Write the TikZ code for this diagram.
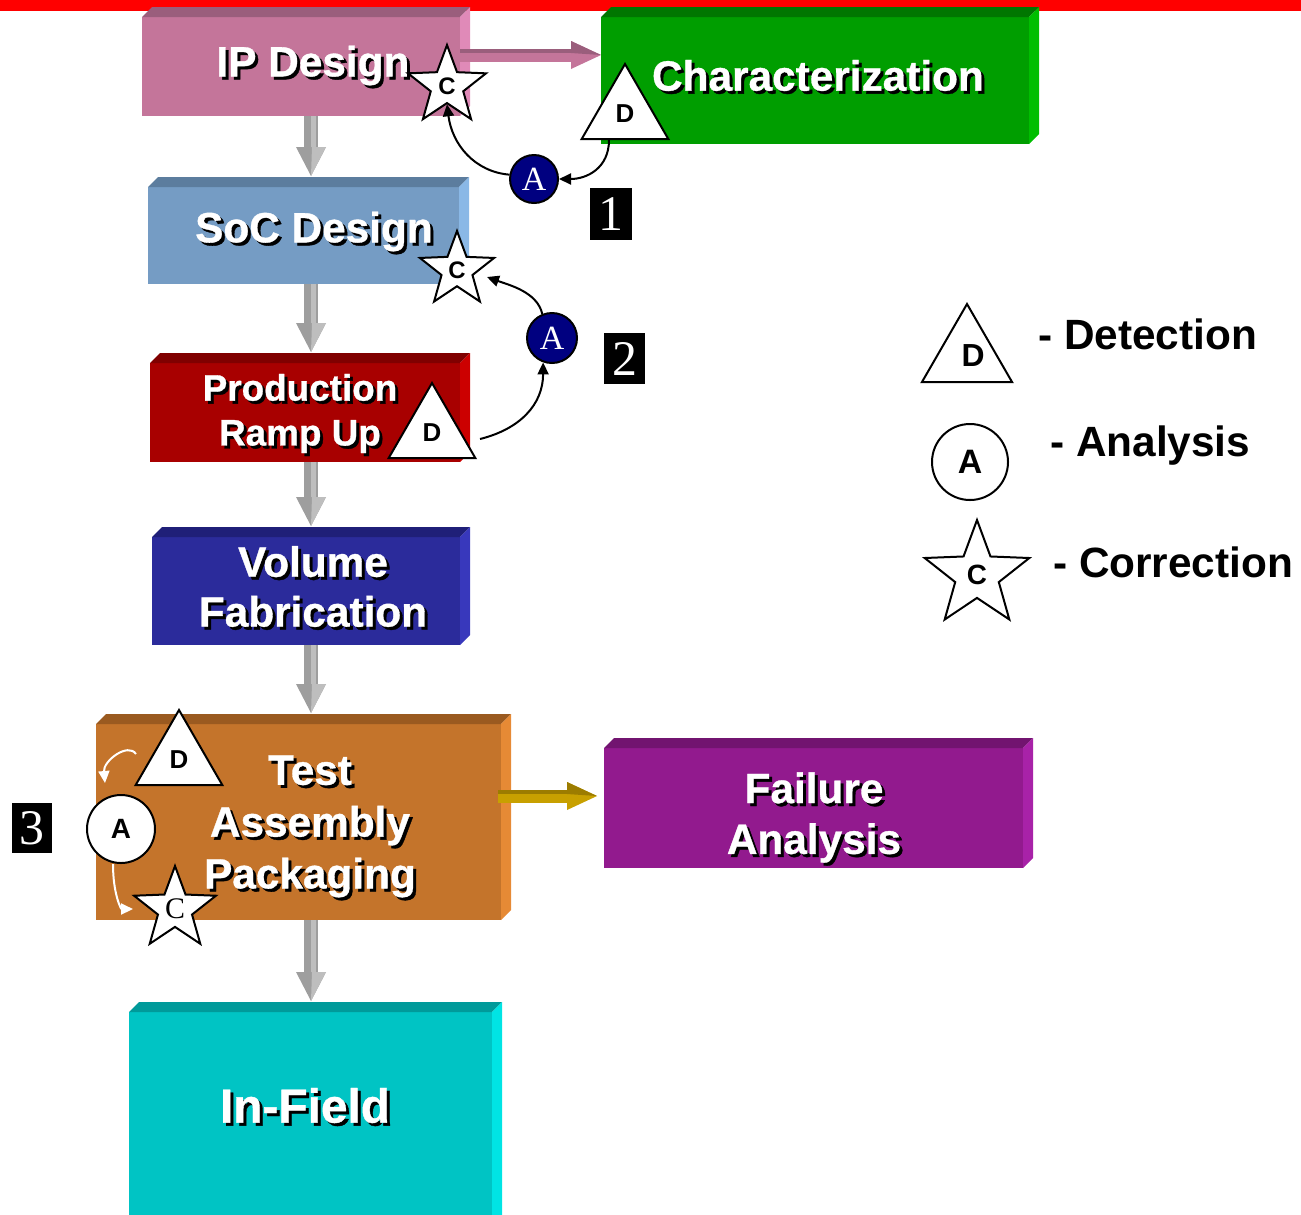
\documentclass[tikz,border=0pt]{standalone}
\usepackage{fontspec}
\setmainfont{Liberation Sans}
\newfontfamily\romanfont{Liberation Serif}
\newfontfamily\heavyfont{Liberation Sans Bold}[FakeBold=0.8]
\usetikzlibrary{shapes.geometric,arrows.meta,calc}

% slab colours: front / top / side
\definecolor{ipF}{HTML}{C4759A}\definecolor{ipT}{HTML}{9A5E7C}\definecolor{ipS}{HTML}{E08AB8}
\definecolor{chF}{HTML}{009E00}\definecolor{chT}{HTML}{007600}\definecolor{chS}{HTML}{00BE00}
\definecolor{soF}{HTML}{759CC4}\definecolor{soT}{HTML}{5C7D9E}\definecolor{soS}{HTML}{8AB8E6}
\definecolor{prF}{HTML}{A80000}\definecolor{prT}{HTML}{800000}\definecolor{prS}{HTML}{CC0000}
\definecolor{voF}{HTML}{2B2B9B}\definecolor{voT}{HTML}{1F1F78}\definecolor{voS}{HTML}{3838BC}
\definecolor{taF}{HTML}{C4742B}\definecolor{taT}{HTML}{9A5A20}\definecolor{taS}{HTML}{E68A35}
\definecolor{faF}{HTML}{921A8E}\definecolor{faT}{HTML}{721470}\definecolor{faS}{HTML}{A822A8}
\definecolor{ifF}{HTML}{00C4C4}\definecolor{ifT}{HTML}{009A9A}\definecolor{ifS}{HTML}{00E4E4}
\definecolor{grayA}{HTML}{9E9E9E}\definecolor{grayB}{HTML}{BEBEBE}
\definecolor{goldA}{HTML}{C8A000}\definecolor{goldT}{HTML}{9C7C00}
\definecolor{navyA}{HTML}{000080}

\tikzset{
  btxt/.style={text=white, font=\heavyfont\fontsize{42.5}{50}\selectfont, align=center, inner sep=0pt},
  tri/.style={regular polygon, regular polygon sides=3, draw=black, line width=2bp, fill=white,
    inner sep=0pt, minimum size=100bp, font=\fontsize{26}{26}\selectfont\bfseries},
  blueA/.style={circle, draw=black, line width=2bp, fill=navyA, text=white, inner sep=0pt,
    minimum size=48bp, font=\romanfont\fontsize{34}{34}\selectfont},
  whiteA/.style={circle, draw=black, line width=2bp, fill=white, inner sep=0pt,
    minimum size=68bp, font=\fontsize{28}{28}\selectfont\bfseries},
  starC/.style={star, star points=5, star point ratio=2.4, draw=black, line width=2bp, fill=white,
    inner sep=0pt, minimum size=80bp, font=\fontsize{24}{24}\selectfont\bfseries},
  numbox/.style={fill=black, text=white, inner sep=0pt, font=\romanfont\fontsize{50}{50}\selectfont},
  legtxt/.style={anchor=west, inner sep=0pt, font=\fontsize{42.5}{42}\selectfont\bfseries},
  conn/.style={draw=black, line width=2bp, -{Triangle[length=12bp,width=11bp]}},
  wconn/.style={draw=white, line width=2bp, -{Triangle[length=12bp,width=11bp]}},
}

% 3-D slab: name, x1, y1, x2, y2, colour prefix
\newcommand\slab[6]{%
  \pgfmathsetmacro\slabw{#4-#2}\pgfmathsetmacro\slabh{#5-#3}%
  \node[fill=#6F, inner sep=0pt, outer sep=0pt, minimum width=\slabw bp, minimum height=\slabh bp,
        anchor=north west] (#1) at (#2,#3) {};
  \fill[#6T] (#1.north west) -- ++(10,-10) -- ([shift={(10,-10)}]#1.north east) -- (#1.north east) -- cycle;
  \fill[#6S] (#1.north east) -- ++(10,-10) -- ([shift={(10,-10)}]#1.south east) -- (#1.south east) -- cycle;
}

% one line of white lettering over a dark drop shadow
\newcommand\shd[1]{\leavevmode\rlap{\hspace*{3bp}\raisebox{-3bp}{\color{black}#1}}#1}

% grey block arrow pointing down from one slab to the next
\newcommand\gdown[2]{%
  \coordinate (gs) at (#1.south -| ax);
  \coordinate (g0) at (#2.north -| ax);
  \coordinate (gt) at ([yshift=11bp]g0);
  \coordinate (gb) at ([yshift=40bp]g0);
  \fill[grayA] ([xshift=-7bp]gs) rectangle ([xshift=7bp,yshift=-1bp]gb);
  \fill[grayB] ([xshift=0bp]gs) rectangle ([xshift=5bp,yshift=-1bp]gb);
  \fill[grayA] ([xshift=-15bp]gb) -- ([xshift=15bp]gb) -- (gt) -- cycle;
  \fill[grayB] ([xshift=1bp]gb) -- ([xshift=15bp]gb) -- (gt) -- cycle;
}

% horizontal block arrow: start, tip, main colour, top colour
\newcommand\hfat[4]{%
  \fill[#3] ([yshift=6.5bp]#1) rectangle ([xshift=-27bp,yshift=-6.5bp]#2);
  \fill[#4] ([yshift=6.5bp]#1) rectangle ([xshift=-27bp,yshift=2bp]#2);
  \fill[#3] ([xshift=-30bp,yshift=14bp]#2) -- (#2) -- ([xshift=-30bp,yshift=-14bp]#2) -- cycle;
  \fill[#4] ([xshift=-30bp,yshift=14bp]#2) -- (#2) -- ([xshift=-30bp,yshift=2bp]#2) -- cycle;
}

\begin{document}
\begin{tikzpicture}[x=1bp,y=-1bp]
\clip (0,0) rectangle (1301,1214);
\fill[red] (0,0) rectangle (1301,11);

% process slabs
\slab{ip}{142}{17}{460}{116}{ip}
\slab{ch}{601}{17}{1029}{144}{ch}
\slab{soc}{148}{187}{459}{284}{so}
\slab{pr}{150}{363}{460}{462}{pr}
\slab{vol}{152}{537}{460}{645}{vo}
\slab{tap}{96}{724}{501}{920}{ta}
\slab{fa}{604}{748}{1023}{868}{fa}
\slab{inf}{129}{1012}{492}{1240}{if}

% block arrows between slabs
\coordinate (ax) at (311,0);
\gdown{ip}{soc}
\gdown{soc}{pr}
\gdown{pr}{vol}
\gdown{vol}{tap}
\gdown{tap}{inf}

\coordinate (ay) at (0,55);
\coordinate (pa) at (ip.east |- ay);
\coordinate (pb) at (ch.west |- ay);
\hfat{pa}{pb}{ipF}{ipT}

\coordinate (gy) at (0,796);
\coordinate (ga) at ([xshift=-3bp]tap.east |- gy);
\coordinate (gbb) at (fa.west |- gy);
\coordinate (gtip) at ([xshift=-7bp]gbb);
\hfat{ga}{gtip}{goldA}{goldT}

% slab labels
\node[btxt] (ipL) at (313,67) {\shd{IP Design}};
\node[btxt] (chL) at (818,77) {\shd{Characterization}};
\node[btxt] (socL) at (314,233) {\shd{SoC Design}};
\node[btxt, font=\heavyfont\fontsize{37}{45}\selectfont] (prL) at (300,415) {\shd{Production}\\\shd{Ramp Up}};
\node[btxt] (volL) at (313,588) {\shd{Volume}\\\shd{Fabrication}};
\node[btxt, font=\heavyfont\fontsize{42.5}{52}\selectfont] (tapL) at (310,828) {\shd{Test}\\\shd{Assembly}\\\shd{Packaging}};
\node[btxt, font=\heavyfont\fontsize{42.5}{51}\selectfont] (faL) at (814,819) {\shd{Failure}\\\shd{Analysis}};
\node[btxt, font=\heavyfont\fontsize{48}{50}\selectfont] (infL) at (305,1107) {\shd{In-Field}};

% loop 1: characterization
\node[tri] (d1) at (625,114) {\raisebox{-5bp}{D}};
\node[blueA] (a1) at (534,179) {A};
\node[starC, minimum size=82bp] (c1) at (447,86) {C};
\draw[conn] ([xshift=-16bp]d1.side 2) .. controls +(0,28) and +(28,0) .. (a1.east);
\draw[conn] (a1.170) .. controls +(-35,-3) and +(5,40) .. (c1.inner point 3);
\node[numbox, minimum width=42bp, minimum height=52bp] (n1) at (611,214) {1};

% loop 2: production ramp up
\node[tri] (d2) at (432,433) {\raisebox{-5bp}{D}};
\node[blueA, minimum size=50bp] (a2) at (552,338) {A};
\node[starC, minimum size=78bp] (c2) at (457,270) {C};
\draw[conn] ([shift={(3,-20)}]d2.corner 3) .. controls +(40,-10) and +(0,42) .. (a2.250);
\draw[conn] (a2.112) .. controls +(-5,-22) and +(22,8) .. ([shift={(30,7)}]c2.center);
\node[numbox, minimum width=41bp, minimum height=51bp] (n2) at (624.5,358.5) {2};

% loop 3: test, assembly, packaging
\node[tri] (d3) at (179,760) {\raisebox{-5bp}{D}};
\node[whiteA] (a3) at (121,829) {A};
\node[starC, minimum size=86bp, font=\romanfont\fontsize{30}{30}\selectfont] (c3) at (175,909) {C};
\draw[wconn] ([shift={(2,-32)}]d3.corner 2) .. controls +(-8,-12) and +(-2,-22) .. ([shift={(-16,-11)}]a3.north);
\draw[wconn] ([xshift=-8bp]a3.south) .. controls +(0,30) and +(-12,0) .. ([xshift=-42bp]c3.center);
\node[numbox, minimum width=40bp, minimum height=50bp] (n3) at (32,828) {3};

% legend
\node[tri, minimum size=104bp, font=\fontsize{32}{32}\selectfont\bfseries] (ld) at (967,356) {\hspace*{12bp}D};
\node[legtxt] (ldt) at (1038,334) {- Detection};
\node[whiteA, minimum size=76bp, font=\fontsize{34}{34}\selectfont\bfseries] (la) at (970,462) {A};
\node[legtxt] (lat) at (1050,446) {- Analysis};
\node[starC, minimum size=110bp, font=\fontsize{28}{28}\selectfont\bfseries] (lc) at (977,575) {\raisebox{-3bp}{C}};
\node[legtxt] (lct) at (1053,562) {- Correction};
\end{tikzpicture}
\end{document}
